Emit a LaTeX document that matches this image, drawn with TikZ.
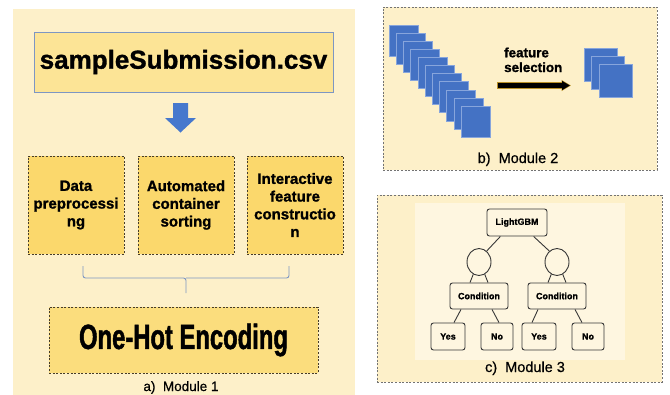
\documentclass[tikz,border=0pt]{standalone}
\usepackage{fontspec}
\setmainfont{Liberation Sans}[BoldFeatures={FakeBold=1.2}]
\newfontfamily\condfont[FakeStretch=0.68,FakeBold=1.3]{Liberation Sans}
\newfontfamily\capfont[FakeBold=0.6]{Liberation Sans}
\usetikzlibrary{shapes.geometric,arrows.meta}

\definecolor{bgpale}{RGB}{253,240,201}
\definecolor{innerpale}{RGB}{254,246,224}
\definecolor{boxtop}{RGB}{252,228,150}
\definecolor{boxmid}{RGB}{251,216,108}
\definecolor{boxlow}{RGB}{251,221,125}
\definecolor{edgeblue}{RGB}{125,150,195}
\definecolor{arrblue}{RGB}{70,120,205}
\definecolor{sqblue}{RGB}{68,114,196}
\definecolor{sqedge}{RGB}{135,165,220}
\definecolor{dashgray}{RGB}{115,115,115}
\definecolor{dashdark}{RGB}{70,60,40}
\definecolor{gold}{RGB}{185,145,40}
\definecolor{treeline}{RGB}{55,55,55}

\tikzset{
  midbox/.style={draw=dashdark, dash pattern=on 2pt off 1.6pt, line width=0.7pt,
    fill=boxmid, minimum width=96pt, minimum height=98pt, text width=92pt,
    align=center, inner sep=0pt, font=\bfseries\fontsize{15}{17.7}\selectfont},
  panel/.style={draw=dashgray, dash pattern=on 2pt off 1.6pt, line width=0.7pt,
    fill=bgpale, inner sep=0pt},
  sq/.style={fill=sqblue, draw=sqedge, line width=0.6pt, inner sep=0pt},
  tbox/.style={draw=treeline, rounded corners=2.5pt, fill=innerpale, line width=0.9pt,
    inner sep=0pt, font=\bfseries\fontsize{9}{11}\selectfont},
  tcirc/.style={ellipse, draw=treeline, fill=innerpale, line width=0.9pt,
    minimum width=24pt, minimum height=27pt, inner sep=0pt},
  tlink/.style={draw=treeline, line width=0.9pt},
  caption/.style={anchor=base, font=\capfont\fontsize{14}{17}\selectfont}
}

\begin{document}
\begin{tikzpicture}[x=1pt,y=-1pt]
\useasboundingbox (0,0) rectangle (670,394);
\clip (0,0) rectangle (670,394);
\fill[white] (0,0) rectangle (670,394);

% ---------- Module 1 ----------
\fill[bgpale] (13,9) rectangle (355,400);

\node[draw=edgeblue, fill=boxtop, line width=1pt, minimum width=299pt,
      minimum height=60pt, inner sep=0pt] (csv) at (183.5,62)
      {\bfseries\fontsize{26}{30}\selectfont sampleSubmission.csv};

% downward block arrow
\fill[arrblue] (173,103) -- (188,103) -- (188,118) -- (196,118) -- (180.5,132.5)
  -- (165,118) -- (173,118) -- cycle;

\node[midbox] (prep) at (76,205)  {Data\\preprocessi\\ng};
\node[midbox] (sort) at (186,205) {Automated\\container\\sorting};
\node[midbox] (feat) at (295,205) {Interactive\\feature\\constructio\\n};

% brace gathering the three steps
\coordinate (brl) at (83,266);
\coordinate (brr) at (289,266);
\coordinate (brm) at (186,278);
\coordinate (brt) at (186,293);
\draw[edgeblue, line width=0.9pt, rounded corners=2.5pt] (brl) |- (brm) -- (brt);
\draw[edgeblue, line width=0.9pt, rounded corners=2.5pt] (brr) |- (brm);

\node[draw=dashdark, dash pattern=on 2pt off 1.6pt, line width=0.7pt, fill=boxlow,
      minimum width=269pt, minimum height=66pt, inner sep=0pt] (ohe) at (183.5,340)
      {\condfont\bfseries\fontsize{35}{40}\selectfont One-Hot Encoding};

\node[caption, font=\capfont\fontsize{13.5}{16}\selectfont] (capa) at (181,391) {a)\ \ Module 1};

% ---------- Module 2 ----------
\node[panel, minimum width=274pt, minimum height=163pt] (m2) at (520,88.5) {};

\foreach \i in {0,...,10}
  \node[sq, minimum width=29pt, minimum height=31pt] (all\i)
    at ({403.5+7.2*\i},{40.5+8.1*\i}) {};

\foreach \i in {0,1,2}
  \node[sq, minimum width=33pt, minimum height=33pt] (sel\i)
    at ({600.5+7.5*\i},{64.5+8*\i}) {};

\coordinate (fsa) at (497,85.5);
\coordinate (fsb) at (571,85.5);
\draw[gold, line width=6.4pt, -{Triangle[length=9.5pt,width=10.5pt]}] (fsa) -- (fsb);
\draw[black, line width=4.6pt, -{Triangle[length=8pt,width=8.6pt]}]
  ([xshift=0.8pt]fsa) -- ([xshift=-1pt]fsb);

% the base anchor of a two-line node sits on its last line
\node[anchor=base west, align=left, inner sep=0pt,
      font=\bfseries\fontsize{13.4}{14.7}\selectfont] (fstext) at (504,72)
      {feature\\selection};

\node[caption, font=\capfont\fontsize{14.5}{17}\selectfont] (capb) at (518,163) {b)\ \ Module 2};

% ---------- Module 3 ----------
\node[panel, minimum width=285pt, minimum height=187pt] (m3) at (519.5,288.5) {};
\fill[innerpale] (415,203) rectangle (625,360);

\node[tbox, minimum width=60pt, minimum height=27pt] (lgbm) at (517,222.5) {LightGBM};
\node[tcirc] (cl) at (479,262) {};
\node[tcirc] (cr) at (557,262) {};
\node[tbox, minimum width=58pt, minimum height=26pt] (condl) at (479,296) {Condition};
\node[tbox, minimum width=58pt, minimum height=26pt] (condr) at (557,296) {Condition};
\node[tbox, minimum width=34pt, minimum height=27pt] (yesl) at (448,336.5) {Yes};
\node[tbox, minimum width=32pt, minimum height=27pt] (nol)  at (497,336.5) {No};
\node[tbox, minimum width=34pt, minimum height=27pt] (yesr) at (539,336.5) {Yes};
\node[tbox, minimum width=32pt, minimum height=27pt] (nor)  at (588,336.5) {No};

\draw[tlink] (lgbm.220) -- (cl.55);
\draw[tlink] (lgbm.-40) -- (cr.125);
\draw[tlink] (cl.-115) -- ([xshift=-9pt]condl.north);
\draw[tlink] (cl.-65)  -- ([xshift=9pt]condl.north);
\draw[tlink] (cr.-115) -- ([xshift=-9pt]condr.north);
\draw[tlink] (cr.-65)  -- ([xshift=9pt]condr.north);
\draw[tlink] ([xshift=-18pt]condl.south) -- ([xshift=6pt]yesl.north);
\draw[tlink] ([xshift=13pt]condl.south)  -- ([xshift=2pt]nol.north);
\draw[tlink] ([xshift=-19pt]condr.south) -- ([xshift=-7pt]yesr.north);
\draw[tlink] ([xshift=18pt]condr.south)  -- ([xshift=-6pt]nor.north);

\node[caption, font=\capfont\fontsize{14.5}{17}\selectfont] (capc) at (525,372) {c)\ \ Module 3};
\end{tikzpicture}
\end{document}
